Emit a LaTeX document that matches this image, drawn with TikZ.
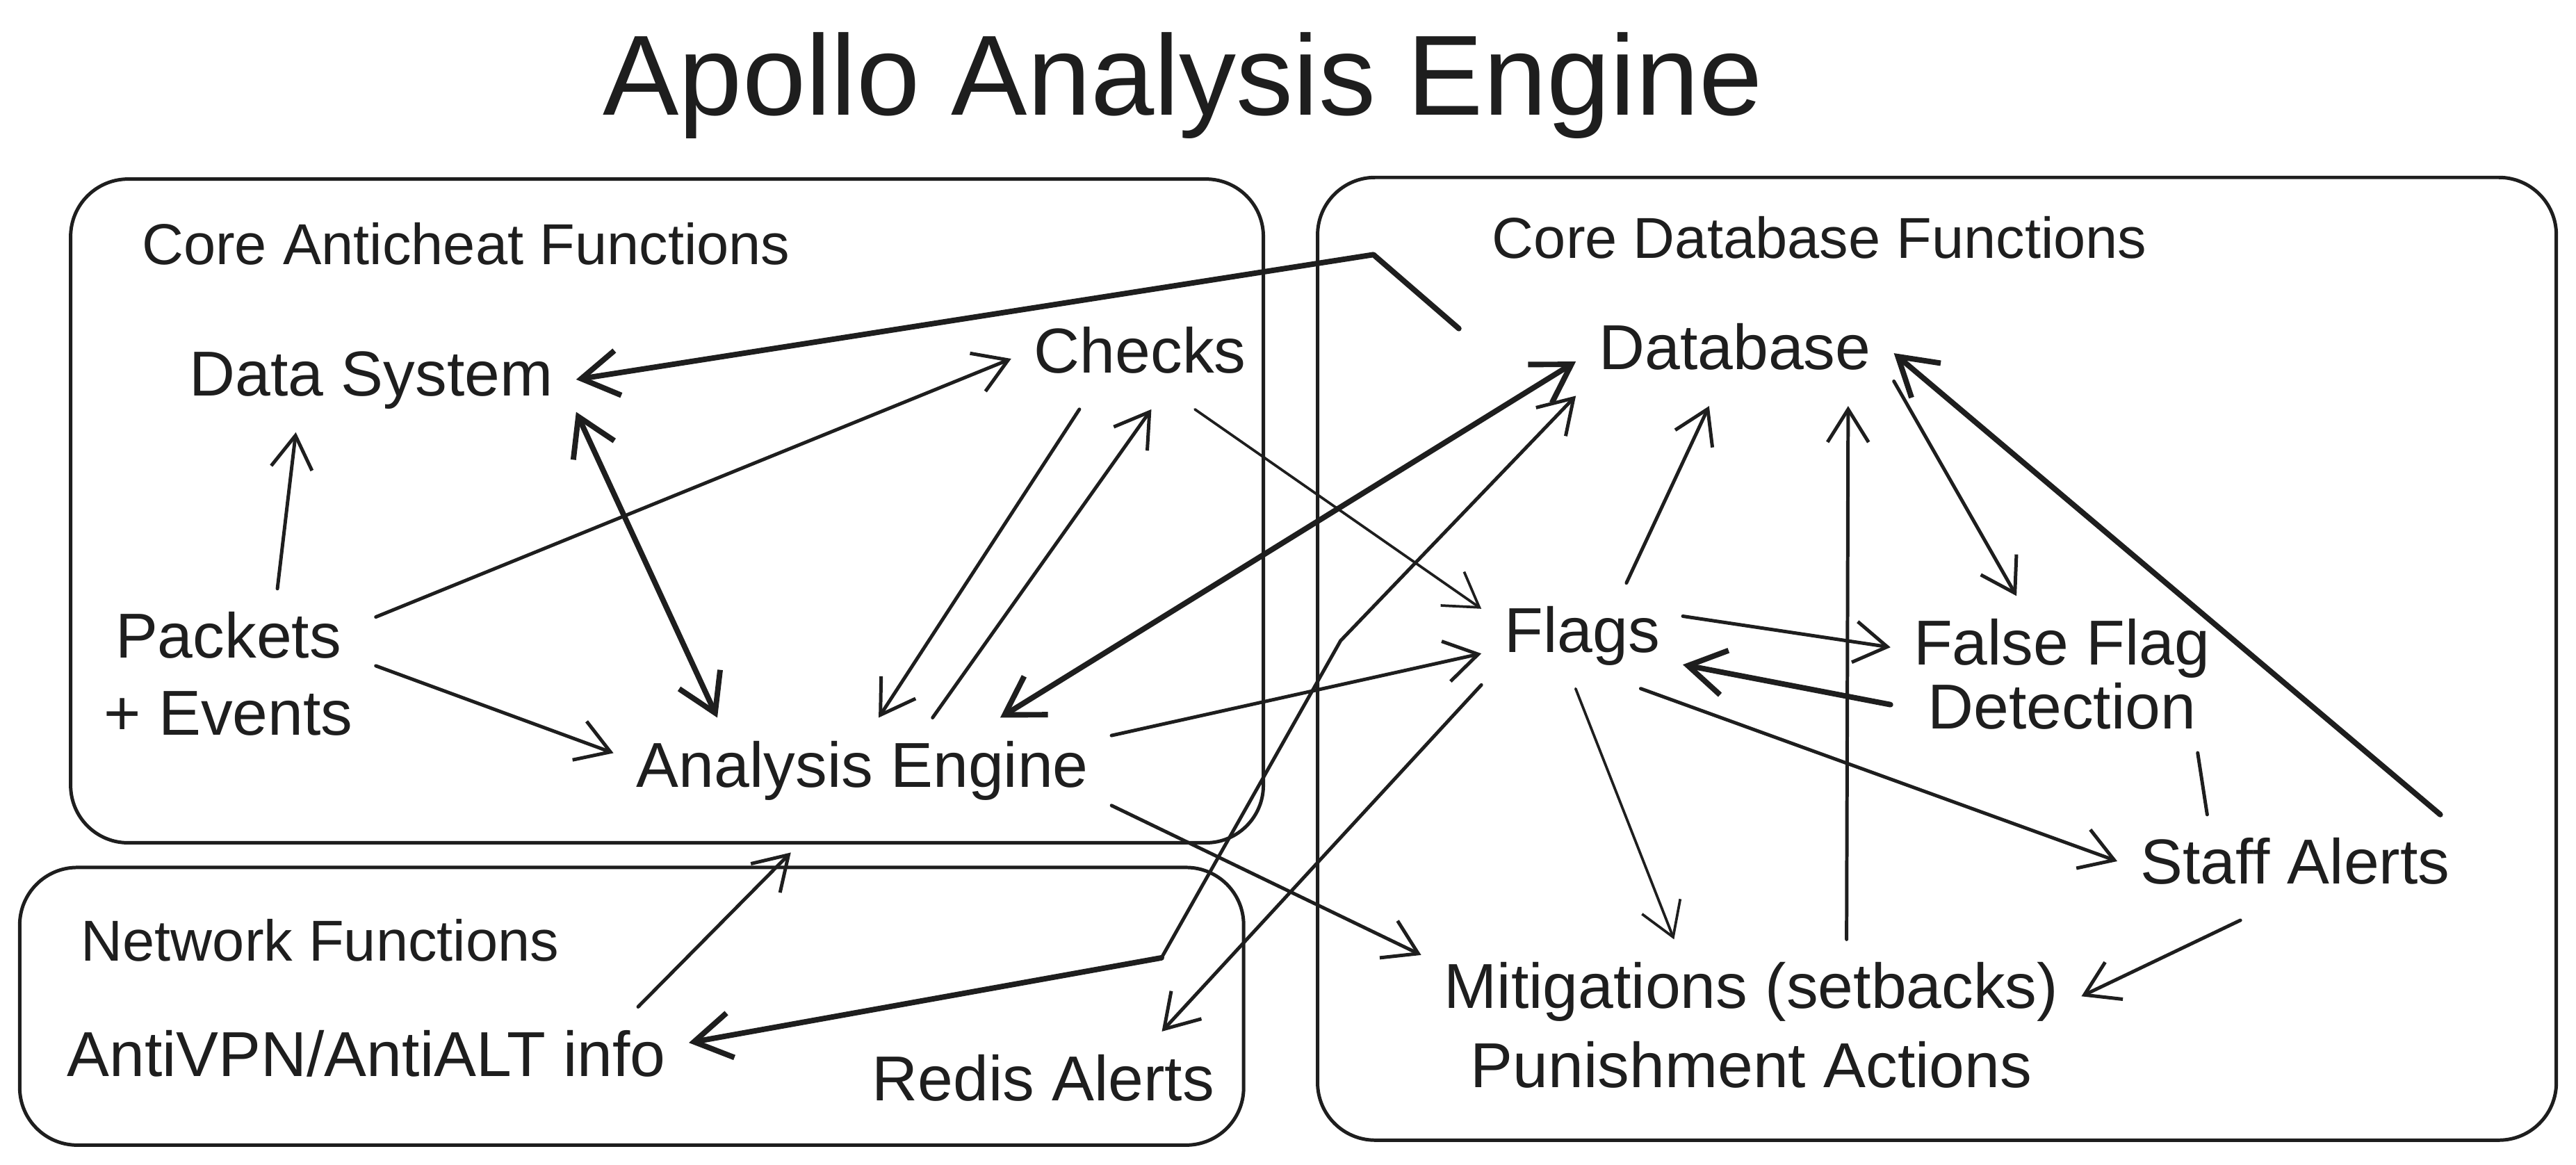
\documentclass[tikz,border=0pt]{standalone}
\usepackage{fontspec}
\setmainfont{Liberation Sans}
\usetikzlibrary{arrows.meta}
\definecolor{ink}{HTML}{1E1E1E}
\begin{document}
\begin{tikzpicture}[x=0.02cm, y=-0.02cm, line cap=round, line join=round, color=ink]
    % Stili
    \tikzstyle{groupbox}=[draw=ink, line width=1.2pt, rounded corners=0.7cm]
    \tikzstyle{grouptitle}=[anchor=base west, inner sep=0pt, font=\fontsize{20}{24}\selectfont]
    \tikzstyle{item}=[anchor=base, inner sep=4pt, outer sep=4pt, text height=16pt, text depth=4.6pt, font=\fontsize{22}{26.7}\selectfont]
    \tikzstyle{itemtwo}=[inner sep=4pt, outer sep=4pt, align=center, font=\fontsize{22}{26.7}\selectfont]
    \tikzstyle{arrow}=[-{Straight Barb[length=4mm,width=5mm]}, line width=1.2pt]
    \tikzstyle{thinarrow}=[-{Straight Barb[length=4mm,width=5mm]}, line width=0.9pt]
    \tikzstyle{thickarrow}=[-{Straight Barb[length=4.5mm,width=5.5mm]}, line width=1.9pt]
    \tikzstyle{thickbiarrow}=[{Straight Barb[length=4.5mm,width=5.5mm]}-{Straight Barb[length=4.5mm,width=5.5mm]}, line width=1.9pt]
    \tikzstyle{plainline}=[line width=1.2pt]
    \useasboundingbox (0,0) rectangle (1568,709);

    % Titolo
    \node[anchor=base, inner sep=0pt, font=\fontsize{39.5}{47}\selectfont] (title) at (720,70) {Apollo Analysis Engine};

    % Gruppi
    \draw[groupbox] (43,109) rectangle (769,513);
    \draw[groupbox] (802,108) rectangle (1556,694);
    \draw[groupbox] (12,528) rectangle (757,697);
    \node[grouptitle] (actitle) at (86,161) {Core Anticheat Functions};
    \node[grouptitle] (dbtitle) at (908,157) {Core Database Functions};
    \node[grouptitle] (nettitle) at (49,585) {Network Functions};

    % Core anticheat
    \node[item] (dsys) at (226,241) {Data System};
    \node[item] (chk) at (694,227) {Checks};
    \node[itemtwo] (pkt) at (139,410) {Packets\\+ Events};
    \node[item] (aeng) at (525,479) {Analysis Engine};

    % Core database
    \node[item] (db) at (1056,225) {Database};
    \node[item] (flg) at (963,397) {Flags};
    \node[itemtwo, font=\fontsize{22}{22.2}\selectfont] (ffd) at (1255,410.5) {False Flag\\Detection};
    \node[item] (staff) at (1397,538) {Staff Alerts};
    \node[itemtwo, font=\fontsize{22}{27.3}\selectfont] (mit) at (1066,624) {Mitigations (setbacks)\\Punishment Actions};

    % Network
    \node[item] (vpn) at (223,655) {AntiVPN/AntiALT info};
    \node[item] (redis) at (635,670) {Redis Alerts};

    % Punti di piega
    \coordinate (dbtail) at (888,200);
    \coordinate (dbknee) at (836,155);
    \coordinate (vpnknee) at (707,583);
    \coordinate (dbknee2) at (816,390);

    % Collegamenti
    \draw[thickarrow] (dbtail) -- (dbknee) -- (dsys.east);
    \draw[arrow] (pkt.60) -- (dsys.215);
    \draw[arrow] (pkt.21) -- (chk.181);
    \draw[thickbiarrow] (dsys.351) -- (aeng.160);
    \draw[arrow] (pkt.3) -- (aeng.176);
    \draw[arrow] (chk.221) -- (aeng.73);
    \draw[arrow] (aeng.37) -- (chk.282);
    \draw[thinarrow] (chk.316) -- (flg.165);
    \draw[thickbiarrow] (aeng.21) -- (db.183);
    \draw[arrow] (aeng.8) -- (flg.190);
    \draw[arrow] (aeng.352) -- (mit.168);
    \draw[arrow, shorten >=0.5cm] (vpn.11) -- (aeng.231);
    \draw[arrow] (vpnknee) -- (dbknee2) -- (db.195);
    \draw[thickarrow] (vpnknee) -- (vpn.3);
    \draw[arrow] (flg.206) -- (redis.24);
    \draw[arrow] (flg.50) -- (db.244);
    \draw[arrow] (mit.42) -- (db.335);
    \draw[arrow] (db.350) -- (ffd.120);
    \draw[thickarrow] (staff.20) -- (db.0);
    \draw[arrow] (flg.11) -- (ffd.171);
    \draw[thickarrow] (ffd.190) -- (flg.344);
    \draw[arrow] (flg.318) -- (staff.178);
    \draw[thinarrow] (flg.263) -- (mit.132);
    \draw[arrow] (staff.224) -- (mit.5);
    \draw[plainline] (ffd.330) -- (staff.149);
\end{tikzpicture}
\end{document}
